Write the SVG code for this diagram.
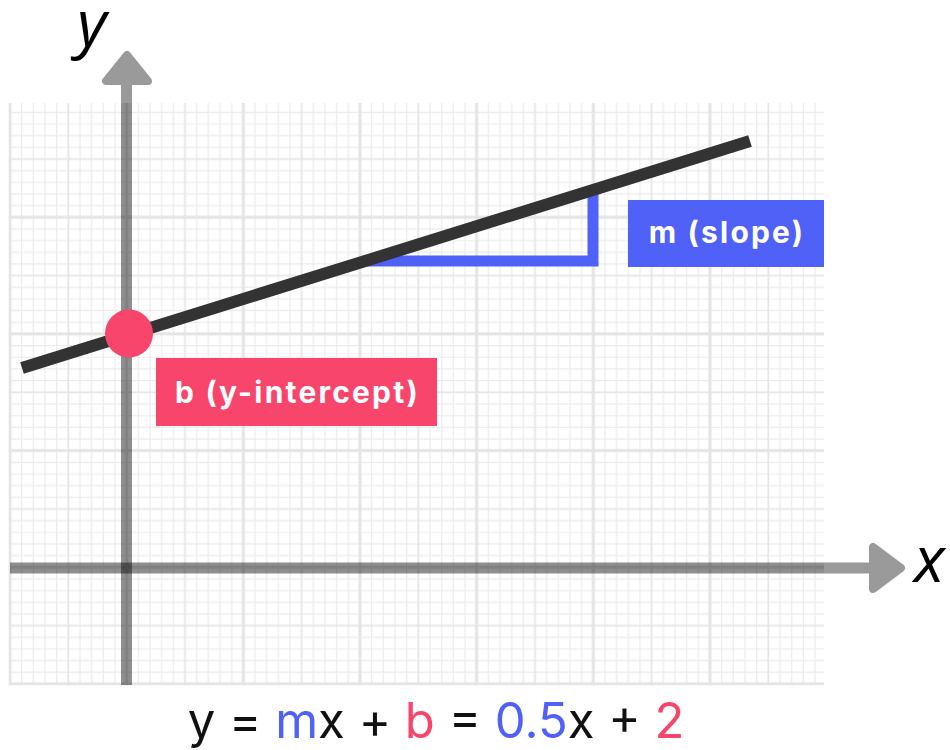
<svg xmlns="http://www.w3.org/2000/svg" width="950" height="750" viewBox="0 0 950 750">
  <style>
    .lbl { font-family: Inter, "Open Sans", "Liberation Sans", sans-serif; font-weight: 700; font-size: 30px; fill: #ffffff; text-anchor: middle; letter-spacing: 2.2px; }
    .axlbl { font-family: "Open Sans", "Liberation Sans", sans-serif; font-style: italic; font-size: 64px; fill: #000000; }
    .eq { font-family: Inter, "Open Sans", "Liberation Sans", sans-serif; font-size: 49px; fill: #111111; }
    .blue { fill: #4f61f6; }
    .pink { fill: #f8456b; }
    .axis-out { fill: #9a9a9a; }
    .axis-in { fill: #000000; fill-opacity: 0.44; }
    .arrowhead { fill: #9a9a9a; stroke: #9a9a9a; stroke-width: 8; stroke-linejoin: round; }
  </style>
  <defs>
    <pattern id="grid" patternUnits="userSpaceOnUse" x="4.1667" y="678.1667" width="116.6667" height="116.6667">
      <g stroke="#ebebeb" stroke-width="1.2">
        <line x1="17.5" y1="0" x2="17.5" y2="116.6667"/>
        <line x1="29.1667" y1="0" x2="29.1667" y2="116.6667"/>
        <line x1="40.8333" y1="0" x2="40.8333" y2="116.6667"/>
        <line x1="52.5" y1="0" x2="52.5" y2="116.6667"/>
        <line x1="75.8333" y1="0" x2="75.8333" y2="116.6667"/>
        <line x1="87.5" y1="0" x2="87.5" y2="116.6667"/>
        <line x1="99.1667" y1="0" x2="99.1667" y2="116.6667"/>
        <line x1="110.8333" y1="0" x2="110.8333" y2="116.6667"/>
        <line y1="17.5" x1="0" y2="17.5" x2="116.6667"/>
        <line y1="29.1667" x1="0" y2="29.1667" x2="116.6667"/>
        <line y1="40.8333" x1="0" y2="40.8333" x2="116.6667"/>
        <line y1="52.5" x1="0" y2="52.5" x2="116.6667"/>
        <line y1="75.8333" x1="0" y2="75.8333" x2="116.6667"/>
        <line y1="87.5" x1="0" y2="87.5" x2="116.6667"/>
        <line y1="99.1667" x1="0" y2="99.1667" x2="116.6667"/>
        <line y1="110.8333" x1="0" y2="110.8333" x2="116.6667"/>
      </g>
      <g stroke="#e6e6e6" stroke-width="1.8">
        <line x1="64.1667" y1="0" x2="64.1667" y2="116.6667"/>
        <line y1="64.1667" x1="0" y2="64.1667" x2="116.6667"/>
      </g>
      <g stroke="#e4e4e4" stroke-width="3">
        <line x1="5.8333" y1="0" x2="5.8333" y2="116.6667"/>
        <line y1="5.8333" x1="0" y2="5.8333" x2="116.6667"/>
      </g>
    </pattern>
  </defs>

  <g id="grid-area">
    <rect x="8.5" y="103" width="815.5" height="582.5" fill="url(#grid)"/>
  </g>

  <g id="axes">
    <rect class="axis-out" x="121" y="80" width="11" height="23"/>
    <path class="arrowhead" d="M127 55 L106 81 L148 81 Z"/>
    <rect class="axis-in" x="121" y="103" width="11" height="582"/>
    <rect class="axis-out" x="824" y="562.5" width="50" height="11"/>
    <path class="arrowhead" d="M901 568 L873 547 L873 589 Z"/>
    <rect class="axis-in" x="10" y="562.5" width="814" height="11"/>
    <text class="axlbl" x="77" y="46">y</text>
    <text class="axlbl" x="914" y="582">x</text>
  </g>

  <g id="slope-triangle">
    <path d="M365 261 L593 261 L593 186" fill="none" stroke="#4f61f6" stroke-width="11"/>
  </g>

  <g id="connectors">
    <line id="line" x1="22" y1="368" x2="750" y2="141" stroke="#333333" stroke-width="12"/>
  </g>

  <g id="intercept-point">
    <circle cx="129" cy="333.5" r="24" fill="#f8456b"/>
  </g>

  <g id="slope-label">
    <rect x="628" y="200" width="196" height="67" fill="#4f61f6"/>
    <text class="lbl" x="727" y="243">m (slope)</text>
  </g>

  <g id="intercept-label">
    <rect x="156" y="358" width="281" height="68" fill="#f8456b"/>
    <text class="lbl" x="297.5" y="403">b (y-intercept)</text>
  </g>

  <g id="equation">
    <text class="eq" x="436" y="738" text-anchor="middle">y = <tspan class="blue">m</tspan>x + <tspan class="pink">b</tspan> = <tspan class="blue">0.5</tspan>x + <tspan class="pink">2</tspan></text>
  </g>
</svg>
